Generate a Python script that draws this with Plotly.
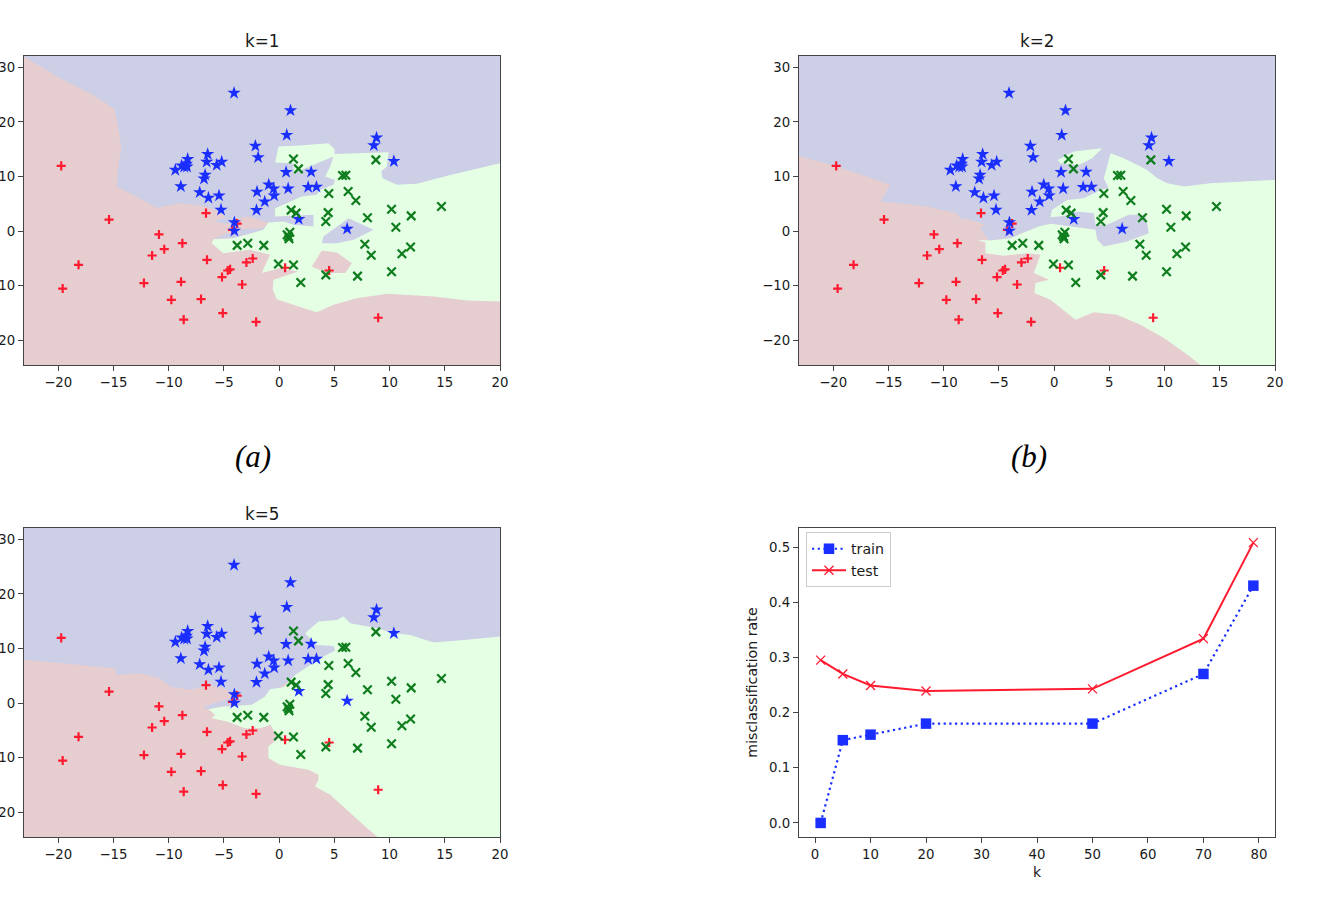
import plotly.graph_objects as go
from plotly.subplots import make_subplots

# training points, same in all three k-NN panels
BLUE_X = [-4.08, 1.03, 0.69, 8.82, 8.58, 10.39, -2.15, -1.9, -6.47, -6.56, -5.2, -5.65, -8.28, -9.4,
          -8.82, -8.6, -8.34, -8.4, -6.7, -6.8, -8.9, -7.19, -6.4, -5.44, -5.26, -4.05, -4.05, -2.0,
          -2.05, -1.3, -0.94, -0.5, -0.45, 0.63, 0.82, 2.9, 2.63, 3.38, 1.78, 6.16]
BLUE_Y = [25.3, 22.1, 17.6, 17.1, 15.7, 12.8, 15.6, 13.5, 14.1, 12.7, 12.7, 12.1, 13.2, 11.2,
          12.0, 11.8, 11.8, 12.3, 10.3, 9.6, 8.2, 7.1, 6.1, 6.5, 3.9, 1.6, 0.05, 7.2,
          3.85, 5.4, 8.5, 7.8, 6.5, 10.8, 7.8, 10.85, 8.05, 8.1, 2.2, 0.43]

GREEN_X = [1.3, 1.75, 8.76, 5.74, 6.04, 4.5, 6.25, 6.95, 10.18, 14.7, 11.96, 8.0, 10.57, 1.09, 1.54,
           4.44, 4.23, 0.97, 0.73, 0.9, 0.85, -3.8, -2.84, -1.39, 7.76, 8.34, 11.9, 11.12, -0.06,
           1.3, 4.23, 1.96, 7.1, 10.18]
GREEN_Y = [13.2, 11.4, 13.05, 10.2, 10.25, 6.9, 7.25, 5.6, 4.0, 4.5, 2.8, 2.45, 0.73, 3.85, 3.3,
           3.4, 1.77, -0.18, -0.67, -1.4, -1.0, -2.6, -2.2, -2.6, -2.4, -4.4, -2.9, -4.15, -6.0,
           -6.2, -8.0, -9.4, -8.23, -7.44]

RED_X = [-19.73, -15.4, -10.88, -8.76, -10.4, -11.5, -18.16, -19.6, -12.24, -8.88, -9.76, -7.07, -8.64,
         -5.1, -2.08, 8.97, -6.62, -3.8, -4.23, -6.53, -5.17, -4.65, -4.44, -3.35, -2.96, -2.39, 0.54, 4.53]
RED_Y = [11.95, 2.13, -0.6, -2.2, -3.3, -4.45, -6.16, -10.5, -9.5, -9.27, -12.56, -12.44, -16.2,
         -15.0, -16.6, -15.85, 3.3, 1.4, 0.24, -5.24, -8.4, -7.2, -7.0, -9.76, -5.73, -5.0, -6.7, -7.2]

# decision regions, as outlines in data units
K1_BLUE = [(-23.1, 32), (-19.85, 28), (-16.8, 24.9), (-14.9, 22.3), (-14.6, 19.1), (-14.3, 15.5), (-14.6, 11.2),
           (-14.7, 8.2), (-12.6, 6.0), (-11.1, 4.3), (-9, 5.1), (-6.9, 4.6), (-5.35, 3.6), (-4.89, 2.56),
           (-5.95, 1.77), (-4.14, 1.16), (-4.14, -0.06), (-5.95, -1.28), (-4.14, -1.28), (-1.42, 0.24), (1.3, 1.0),
           (3.2, 0.8), (6, 5), (20, 12.44), (20, 33), (-23.1, 33)]
K1_GREEN = [(-0.06, 15.5), (1.9, 15.67), (4.47, 16.1), (5.02, 15), (5.02, 14.15), (9.91, 14.45), (9.76, 11.83),
            (9.24, 10.91), (9.37, 9.7), (10.66, 8.48), (12.48, 8.66), (15.5, 10.3), (20.03, 12.44), (20.03, -12.87),
            (17, -12.68), (14, -11.95), (9.76, -11.46), (7.04, -12.26), (4.92, -13.48), (3.41, -14.82), (1.9, -13.9),
            (-0.21, -12.44), (-0.57, -10.73), (-0.51, -8.9), (1.75, -7.38), (0.09, -6.77), (-1.57, -7.68),
            (-0.82, -4.33), (-2.63, -3.41), (-5.05, -4.02), (-6.1, -2.2), (-5.95, -1.46), (-4.14, -1.28), (-1.42, 0.24),
            (-0.97, 1.59), (0.39, 1.77), (1.3, 1.16), (3.11, 0.85), (3.11, 2.99), (-0.36, 2.68), (-0.36, 4.2),
            (1.0, 5.43), (2.05, 6.34), (3.41, 6.65), (3.72, 7.56), (4.92, 8.48), (5.08, 9.39), (4.17, 10),
            (4.62, 11.83), (4.92, 13.66), (3.87, 12.74), (1.3, 10.61), (1.3, 12.44), (-0.36, 12.56)]
K1_BLUE_ISLAND = [(3.87, -2.2), (4.02, -0.98), (6.28, 2.38), (8.55, 0.24), (6.74, -1.59), (5.23, -2.2)]
K1_PINK_ISLAND = [(2.96, -6.46), (3.87, -3.54), (5.23, -3.9), (6.59, -5.85), (5.98, -7.68), (4.32, -7.68)]
K1_PINK_WEDGE = [(-3.99, 2.26), (-2.78, 2.68), (-0.97, 1.59), (-1.42, 0.55), (-4.14, 0.24), (-4.14, 1.16)]

K2_BLUE = [(-23.1, 13.78), (-19.67, 11.83), (-14.83, 8.48), (-15.74, 5.43), (-13.63, 5.0), (-11.51, 4.51),
           (-8.79, 3.29), (-8.5, 2.38), (-7.6, 2.07), (-6.22, 1.16), (-6.7, 0.67), (-6.07, -1.28), (-5.77, -1.7),
           (-3.96, -1.28), (-1.39, 0.85), (-0.33, 1.34), (1.48, 0.85), (3.75, 0.24), (3.9, -1.59), (4.5, -2.8),
           (6.62, -1.89), (8.58, -0.37), (8.28, 2.99), (20, 9.39), (20, 33), (-23.1, 33)]
K2_GREEN = [(5.11, 14.27), (6.31, 13.35), (8.43, 11.2), (9.34, 9.7), (10.24, 8.78), (11.75, 8.17), (14.17, 8.78),
            (20.03, 9.39), (20.03, -25), (13.56, -25), (12.05, -22.6), (9.94, -19.57), (7.82, -17.13), (5.71, -15.3),
            (3.6, -14.82), (1.93, -16.2), (-0.33, -12.56), (-1.78, -11.34), (-1.69, -9.5), (-0.48, -8.9),
            (-1.84, -7.68), (-1.24, -4.33), (-2.45, -4.02), (-4.56, -4.5), (-6.22, -4.02), (-6.22, -2.07),
            (-6.98, -1.59), (-5.77, -1.7), (-3.96, -1.28), (-1.39, 0.85), (-0.33, 1.34), (1.48, 0.85), (3.75, 0.24),
            (3.9, -1.59), (4.5, -2.8), (6.62, -1.89), (8.58, -0.37), (8.28, 2.99), (6.77, 2.99), (4.8, 1.16),
            (3.75, 1.16), (3.6, 3.29), (2.08, 3.6), (0.88, 2.8), (-0.33, 2.56), (-0.18, 3.9), (1.18, 5.73),
            (2.69, 6.04), (4.2, 7.56), (4.95, 7.87), (4.5, 9.7), (4.8, 11.83)]
K2_GREEN_LOBE = [(0.33, 13.05), (1.78, 14.57), (4.35, 15.18), (3.44, 13.35), (2.24, 12.13), (0.57, 12.44)]

K5_BLUE = [(-23.1, 7.93), (-20.76, 7.5), (-17.7, 7.0), (-14.86, 6.4), (-14.7, 5.18), (-12.6, 5.49), (-10.8, 4.57),
           (-9.88, 3.05), (-8.07, 2.44), (-7.16, 2.93), (-5.95, 3.17), (-4.74, 2.44), (-3.84, 1.22), (-5.05, 0.6),
           (-5.95, 0), (-6.86, -0.73), (-6.4, -1.1), (-5.05, -0.6), (-2.48, -0.3), (-1.27, 1.22), (4, 8),
           (20, 12.2), (20, 33), (-23.1, 33)]
K5_GREEN = [(-6.4, -1.1), (-5.05, -0.6), (-3.69, -0.49), (-2.48, -0.3), (-1.27, 1.22), (-0.82, 2.56), (0.39, 2.93),
            (1.45, 5.18), (2.36, 6.4), (4.02, 8.54), (5.08, 9.63), (4.92, 10.49), (3.41, 10.67), (2.36, 12.8),
            (3.56, 14.94), (5.23, 15.24), (5.83, 15.85), (6.44, 14.63), (8.85, 13.7), (10.36, 12.8), (11.87, 12.5),
            (13.99, 11.1), (17, 11.6), (20.03, 12.2), (20.03, -25), (9.24, -25), (7.95, -22.87), (6.13, -19.5),
            (4.62, -16.77), (3.26, -15.24), (3.56, -14), (3.56, -13.1), (2.66, -12.2), (0.09, -11.28), (-0.97, -10.06),
            (-0.97, -7.93), (-0.06, -6.4), (-0.51, -5), (-0.76, -3.96), (-1.72, -4.57), (-3.08, -4.57), (-4.74, -3.35),
            (-6.1, -2.74), (-5.8, -2.13)]

# error curves
K_VALUES = [1, 5, 10, 20, 50, 70, 79]
TRAIN_RATE = [0.0, 0.15, 0.16, 0.18, 0.18, 0.27, 0.43]
TEST_RATE = [0.295, 0.27, 0.249, 0.239, 0.243, 0.334, 0.508]

PINK = "#e5cdd0"
LIGHT_BLUE = "#cccfe5"
LIGHT_GREEN = "#e5ffe5"
BLUE = "#1a2fff"
RED = "#ff1a2f"
GREEN = "#0f7d1e"
AXIS = "#444444"
FONT = "DejaVu Sans"

W, H = 1332, 898


def region(fig, outline, color, row, col):
    fig.add_trace(go.Scatter(
        x=[p[0] for p in outline] + [outline[0][0]],
        y=[p[1] for p in outline] + [outline[0][1]],
        mode="lines", fill="toself", fillcolor=color,
        line=dict(width=0), hoverinfo="skip", showlegend=False
    ), row=row, col=col)


def training_points(fig, row, col):
    fig.add_trace(go.Scatter(
        x=RED_X, y=RED_Y, mode="markers", showlegend=False,
        marker=dict(symbol="cross-thin", size=6.5, color=RED, line=dict(color=RED, width=2.2))
    ), row=row, col=col)
    fig.add_trace(go.Scatter(
        x=BLUE_X, y=BLUE_Y, mode="markers", showlegend=False,
        marker=dict(symbol="star", size=10, color=BLUE, line=dict(width=0))
    ), row=row, col=col)
    fig.add_trace(go.Scatter(
        x=GREEN_X, y=GREEN_Y, mode="markers", showlegend=False,
        marker=dict(symbol="x-thin", size=8.5, color=GREEN, line=dict(color=GREEN, width=2.2))
    ), row=row, col=col)


fig = make_subplots(rows=2, cols=2)

panels = [
    (1, 1, [(K1_BLUE, LIGHT_BLUE), (K1_PINK_WEDGE, PINK), (K1_GREEN, LIGHT_GREEN),
            (K1_BLUE_ISLAND, LIGHT_BLUE), (K1_PINK_ISLAND, PINK)]),
    (1, 2, [(K2_BLUE, LIGHT_BLUE), (K2_GREEN, LIGHT_GREEN), (K2_GREEN_LOBE, LIGHT_GREEN)]),
    (2, 1, [(K5_BLUE, LIGHT_BLUE), (K5_GREEN, LIGHT_GREEN)]),
]
for row, col, layers in panels:
    for outline, color in layers:
        region(fig, outline, color, row, col)
    training_points(fig, row, col)

fig.add_trace(go.Scatter(
    x=K_VALUES, y=TRAIN_RATE, mode="lines+markers", name="train",
    line=dict(color=BLUE, width=2.2, dash="2.2px,3.5px"),
    marker=dict(symbol="square", size=10.5, color=BLUE)
), row=2, col=2)
fig.add_trace(go.Scatter(
    x=K_VALUES, y=TEST_RATE, mode="lines+markers", name="test",
    line=dict(color=RED, width=2),
    marker=dict(symbol="x-thin", size=9, color=RED, line=dict(color=RED, width=1.3))
), row=2, col=2)

axis_style = dict(
    automargin=False,
    showgrid=False, zeroline=False, showline=True, mirror=True, linecolor=AXIS, linewidth=1.2,
    ticks="outside", ticklen=5, tickcolor=AXIS, tickwidth=1, tickfont=dict(family=FONT, size=13.3, color="#1a1a1a")
)
fig.update_xaxes(**axis_style)
fig.update_yaxes(**axis_style)

x_left = [24 / W, 500 / W]
x_right = [799 / W, 1275 / W]
y_top = [1 - 365 / H, 1 - 56 / H]
y_bottom = [1 - 837 / H, 1 - 528 / H]
knn_x = dict(range=[-23.1, 20], tickmode="linear", tick0=-20, dtick=5)
knn_y = dict(range=[-24.5, 32.07], tickmode="linear", tick0=-20, dtick=10)

fig.update_layout(
    width=W, height=H,
    margin=dict(l=0, r=0, t=0, b=0),
    paper_bgcolor="white",
    plot_bgcolor=PINK,
    font=dict(family=FONT, size=13.3, color="#1a1a1a"),
    xaxis=dict(domain=x_left, **knn_x),
    yaxis=dict(domain=y_top, **knn_y),
    xaxis2=dict(domain=x_right, **knn_x),
    yaxis2=dict(domain=y_top, **knn_y),
    xaxis3=dict(domain=x_left, **knn_x),
    yaxis3=dict(domain=y_bottom, **knn_y),
    xaxis4=dict(domain=x_right, range=[-2.9, 82.9], tickmode="linear", tick0=0, dtick=10,
                title=dict(text="k", standoff=6, font=dict(family=FONT, size=14))),
    yaxis4=dict(domain=y_bottom, range=[-0.0255, 0.5345], tickmode="linear", tick0=0, dtick=0.1, tickformat=".1f",
                title=dict(text="misclassification rate", standoff=8, font=dict(family=FONT, size=14.2))),
    legend=dict(x=806 / W, y=1 - 532 / H, xanchor="left", yanchor="top", bgcolor="rgba(255,255,255,0.8)",
                bordercolor="#cccccc", borderwidth=1, font=dict(family=FONT, size=14.2),
                tracegroupgap=0, itemwidth=34),
)
# white background behind the curve panel only
fig.add_shape(type="rect", xref="x4 domain", yref="y4 domain", x0=0, x1=1, y0=0, y1=1,
              fillcolor="white", line=dict(width=0), layer="below")

for text, px, py in [("k=1", 262, 41.5), ("k=2", 1037, 41.5), ("k=5", 262, 513.5)]:
    fig.add_annotation(text=text, x=px / W, y=1 - py / H, xref="paper", yref="paper", showarrow=False,
                       xanchor="center", yanchor="middle", font=dict(family=FONT, size=16.8, color="#1a1a1a"))
for text, px, py in [("(a)", 253, 457), ("(b)", 1029, 457)]:
    fig.add_annotation(text=f"<i>{text}</i>", x=px / W, y=1 - py / H, xref="paper", yref="paper", showarrow=False,
                       xanchor="center", yanchor="middle", font=dict(family="Liberation Serif", size=31, color="black"))

fig.write_html("out.html", config=dict(displayModeBar=False), post_script="document.body.style.margin='0';")
